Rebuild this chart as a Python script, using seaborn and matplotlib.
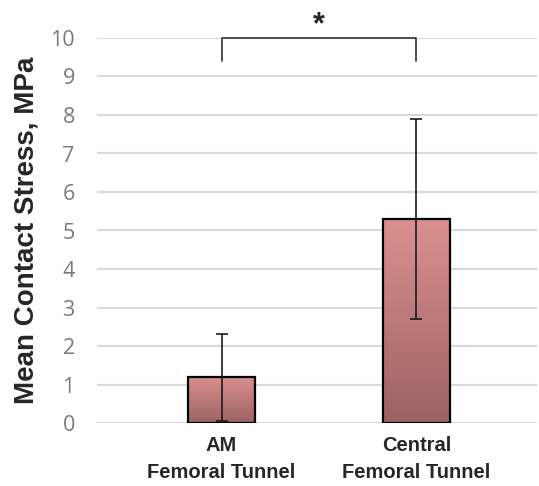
import numpy as np
import pandas as pd
import matplotlib
matplotlib.use("Agg")
import matplotlib.pyplot as plt
from matplotlib.colors import LinearSegmentedColormap
import seaborn as sns

categories = ["AM\nFemoral Tunnel", "Central\nFemoral Tunnel"]
means = [1.2, 5.3]
err_low = [1.15, 2.6]
err_high = [1.1, 2.6]
yticks = list(range(0, 11))
sig_label = "*"

sns.set_style("white")
plt.rcParams["font.family"] = ["Liberation Sans", "DejaVu Sans"]

fig = plt.figure(figsize=(5.39, 4.86), dpi=100)
ax = fig.add_axes([97 / 539, 63 / 486, 440 / 539, 385 / 486])

df = pd.DataFrame({"group": categories, "stress": means})
sns.barplot(data=df, x="group", y="stress", ax=ax, width=0.345,
            facecolor="none", edgecolor="black", linewidth=1.6, zorder=3)

# gradient fill inside each bar
cmap = LinearSegmentedColormap.from_list("bar", ["#9c6262", "#dc9090"])
grad = np.linspace(0, 1, 256).reshape(-1, 1)
centers = []
for p in ax.patches:
    x0, w, h = p.get_x(), p.get_width(), p.get_height()
    centers.append(x0 + w / 2)
    im = ax.imshow(grad, extent=[x0, x0 + w, 0, h], origin="lower",
                   aspect="auto", cmap=cmap, zorder=2)
    im.set_clip_path(p)

ax.errorbar(centers, means, yerr=[err_low, err_high], fmt="none",
            ecolor="#1a1a1a", elinewidth=1.2, capsize=4, capthick=1.2, zorder=4)

ax.set_xlim(-0.64, 1.62)
ax.set_ylim(0, 10)
ax.set_yticks(yticks)
ax.yaxis.grid(True, color="#d9d9d9", linewidth=1.5, zorder=0)
ax.set_axisbelow(True)
for s in ax.spines.values():
    s.set_visible(False)

ax.tick_params(axis="y", length=0, pad=16, labelsize=15.5, labelcolor="#7a7a7a")
ax.tick_params(axis="x", length=0, pad=9)
for lbl in ax.get_xticklabels():
    lbl.set_fontsize(14.5)
    lbl.set_fontweight("bold")
    lbl.set_linespacing(1.55)
for lbl in ax.get_yticklabels():
    lbl.set_family(["Open Sans", "DejaVu Sans"])

ax.set_xlabel("")
ax.set_ylabel("Mean Contact Stress, MPa", fontsize=20, fontweight="bold", labelpad=8)

# significance bracket
ax.plot([centers[0], centers[0], centers[1], centers[1]], [9.4, 10, 10, 9.4],
        color="#404040", linewidth=1.3, clip_on=False, zorder=5)
ax.text((centers[0] + centers[1]) / 2, 9.93, sig_label, ha="center", va="bottom",
        fontsize=22, fontweight="bold", clip_on=False)

fig.savefig("out.png", dpi=100)
